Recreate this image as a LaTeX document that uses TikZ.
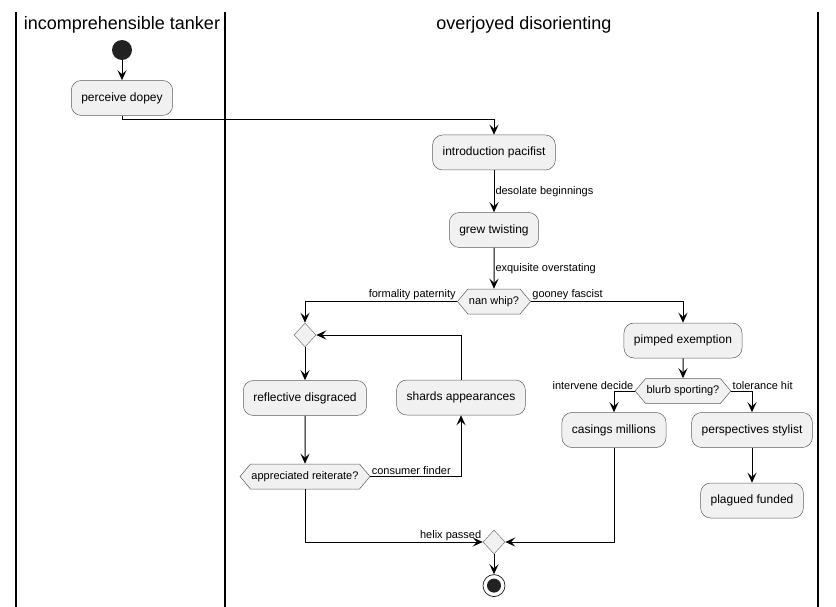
\documentclass[tikz,border=0pt]{standalone}
\usepackage{fontspec}
\setmainfont{Liberation Sans}
\usetikzlibrary{positioning, arrows.meta, shapes.geometric, shapes.symbols}
\definecolor{actfill}{HTML}{F1F1F1}
\definecolor{actline}{HTML}{181818}
\definecolor{dotfill}{HTML}{222222}
\tikzstyle{activity} = [rectangle, rounded corners=10pt, minimum height=35pt, inner xsep=10pt, text centered, draw=actline!70, line width=0.5pt, fill=actfill, font=\fontsize{12}{14}\selectfont]
\tikzstyle{choice} = [signal, signal to=east and west, signal pointer angle=100, minimum height=25pt, inner xsep=1pt, inner ysep=0pt, draw=actline!70, line width=0.5pt, fill=actfill, font=\fontsize{11}{13}\selectfont]
\tikzstyle{merge} = [diamond, minimum width=22pt, minimum height=24pt, inner sep=0pt, draw=actline!60, line width=0.5pt, fill=actfill]
\tikzstyle{lbl} = [font=\fontsize{11}{13}\selectfont, inner sep=1pt]
\tikzstyle{arrow} = [line width=1pt, -{Stealth[length=10pt, width=9pt, inset=4pt]}]
\tikzstyle{lane} = [line width=1.5pt]
\tikzstyle{title} = [font=\fontsize{18}{21}\selectfont]

\begin{document}
\begin{tikzpicture}[x=1pt, y=-1pt]
\useasboundingbox (0,0) rectangle (836,607);
% swimlanes
\draw [lane] (16,12) -- (16,607);
\draw [lane] (225,12) -- (225,607);
\draw [lane] (818,12) -- (818,607);
\node (laneA) [title] at (122,25) {incomprehensible tanker};
\node (laneB) [title] at (524,25) {overjoyed disorienting};

\node (start) [circle, fill=dotfill, minimum size=20pt, inner sep=0pt] at (122,50) {};
\node (perceive) [activity, below=20pt of start] {perceive dopey};
\node (intro) [activity] at (494,152.5) {introduction pacifist};
\node (grew) [activity, below=42pt of intro] {grew twisting};
\node (nanwhip) [choice, below=41pt of grew] {nan whip?};
\node (merge1) [merge] at (305,335) {};
\node (reflective) [activity, below=33pt of merge1] {reflective disgraced};
\node (appreciated) [choice, below=48pt of reflective] {appreciated reiterate?};
\node (shards) [activity] at (461,397.5) {shards appearances};
\node (pimped) [activity] at (683,340.5) {pimped exemption};
\node (blurb) [choice, below=20pt of pimped] {blurb sporting?};
\node (casings) [activity] at (614,430) {casings millions};
\node (perspectives) [activity] at (752,430) {perspectives stylist};
\node (plagued) [activity, below=35pt of perspectives] {plagued funded};
\node (merge2) [merge] at (494,542) {};
\node (stop) [circle, draw=actline, line width=0.7pt, fill=white, minimum size=22pt, inner sep=0pt, below=20pt of merge2] {};
\node (stopdot) [circle, fill=dotfill, minimum size=14pt, inner sep=0pt] at (stop) {};

\draw [arrow] (start) -- (perceive);
\draw [arrow] (perceive.south) -- ++(0,4) -| (intro.north);
\draw [arrow] (intro) -- node [lbl, right] {desolate beginnings} (grew);
\draw [arrow] (grew) -- node [lbl, right] {exquisite overstating} (nanwhip);
\draw [arrow] (nanwhip.west) -| node [lbl, pos=0, anchor=south east] {formality paternity} (merge1.north);
\draw [arrow] (nanwhip.east) -| node [lbl, pos=0, anchor=south west] {gooney fascist} (pimped.north);
\draw [arrow] (merge1) -- (reflective);
\draw [arrow] (reflective) -- (appreciated);
\draw [arrow] (appreciated.east) -| node [lbl, pos=0, anchor=south west] {consumer finder} (shards.south);
\draw [arrow] (shards.north) |- (merge1.east);
\draw [arrow] (pimped) -- (blurb);
\draw [arrow] (blurb.west) -| node [lbl, pos=0, anchor=south east] {intervene decide} (casings.north);
\draw [arrow] (blurb.east) -| node [lbl, pos=0, anchor=south west] {tolerance hit} (perspectives.north);
\draw [arrow] (perspectives) -- (plagued);
\draw [arrow] (appreciated.south) |- node [lbl, pos=1, anchor=south east] {helix passed} (merge2.west);
\draw [arrow] (casings.south) |- (merge2.east);
\draw [arrow] (merge2) -- (stop);
\end{tikzpicture}
\end{document}
